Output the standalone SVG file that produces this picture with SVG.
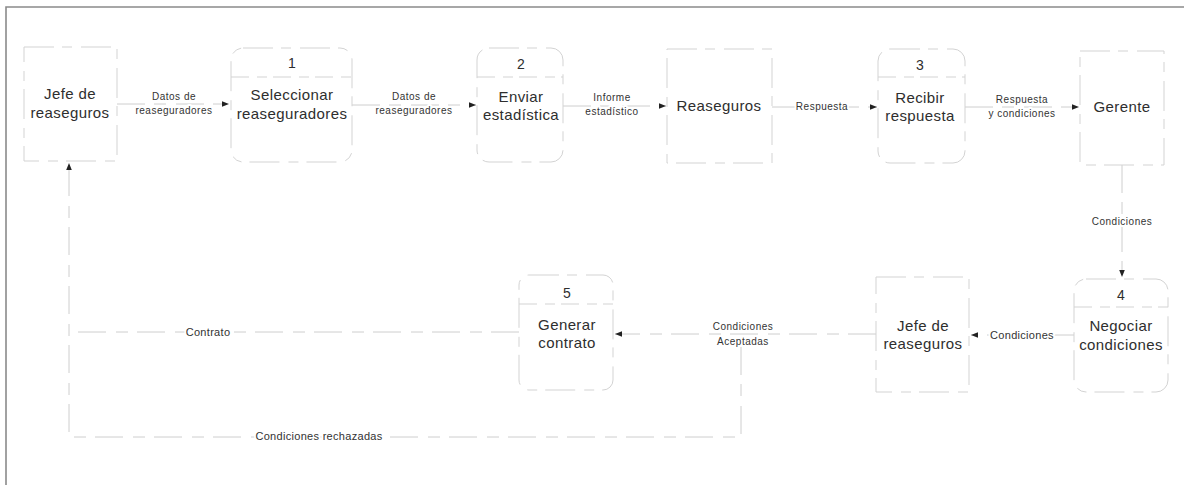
<svg xmlns="http://www.w3.org/2000/svg" width="1184" height="485" viewBox="0 0 1184 485">
  <style>
    .frame { fill: none; stroke: #8a8a8a; stroke-width: 1.6; }
    .box { fill: #ffffff; stroke: #d3d3d3; stroke-width: 1; stroke-dasharray: 30 8 10 9; }
    .div { stroke: #d3d3d3; stroke-width: 1; stroke-dasharray: 18 8 10 6; }
    .flow { fill: none; stroke: #cecece; stroke-width: 1; stroke-dasharray: 28 9 12 10; }
    .big { font-family: "Liberation Sans", Arial, sans-serif; font-size: 15px; letter-spacing: 0.4px; fill: #2e2e2e; text-anchor: middle; }
    .num { font-family: "Liberation Sans", Arial, sans-serif; font-size: 14px; fill: #2e2e2e; text-anchor: middle; }
    .lbl { font-family: "Liberation Sans", Arial, sans-serif; font-size: 10px; letter-spacing: 0.5px; fill: #333333; text-anchor: middle; paint-order: stroke; stroke: #ffffff; stroke-width: 4px; stroke-linejoin: round; }
    .lbl2 { font-family: "Liberation Sans", Arial, sans-serif; font-size: 11px; letter-spacing: 0.3px; fill: #333333; text-anchor: middle; paint-order: stroke; stroke: #ffffff; stroke-width: 4px; stroke-linejoin: round; }
  </style>
  <defs>
    <marker id="arrow" viewBox="0 0 10 10" refX="10" refY="5" markerWidth="7" markerHeight="7" markerUnits="userSpaceOnUse" orient="auto">
      <path d="M0,1 L10,5 L0,9 Z" fill="#222222"/>
    </marker>
  </defs>

  <rect width="1184" height="485" fill="#ffffff"/>
  <!-- page frame (left and top edges) -->
  <path class="frame" d="M6,485 V7 H1184"/>

  <!-- connectors -->
  <g id="connectors">
    <path class="flow" d="M117,104 H229" marker-end="url(#arrow)"/>
    <path class="flow" d="M352,105 H476" marker-end="url(#arrow)"/>
    <path class="flow" d="M563,106 H666" marker-end="url(#arrow)"/>
    <path class="flow" d="M772,107 H877" marker-end="url(#arrow)"/>
    <path class="flow" d="M965,107 H1079" marker-end="url(#arrow)"/>
    <path class="flow" d="M1122,165 V277" marker-end="url(#arrow)"/>
    <path class="flow" d="M1074,335 H971" marker-end="url(#arrow)"/>
    <path class="flow" d="M876,334 H615" marker-end="url(#arrow)"/>
    <path class="flow" d="M741,347 V437 H69 V163" marker-end="url(#arrow)"/>
    <path class="flow" d="M519,332 H69"/>

    <text class="lbl" x="174" y="100">Datos de</text>
    <text class="lbl" x="174" y="114">reaseguradores</text>
    <text class="lbl" x="414" y="100">Datos de</text>
    <text class="lbl" x="414" y="114">reaseguradores</text>
    <text class="lbl" x="612" y="101">Informe</text>
    <text class="lbl" x="612" y="115">estadístico</text>
    <text class="lbl" x="822" y="110">Respuesta</text>
    <text class="lbl" x="1022" y="103">Respuesta</text>
    <text class="lbl" x="1022" y="117">y condiciones</text>
    <text class="lbl" x="1122" y="225">Condiciones</text>
    <text class="lbl2" x="1022" y="339">Condiciones</text>
    <text class="lbl" x="743" y="330">Condiciones</text>
    <text class="lbl" x="743" y="345">Aceptadas</text>
    <text class="lbl2" x="208" y="336">Contrato</text>
    <text class="lbl2" x="319" y="440">Condiciones rechazadas</text>
  </g>

  <!-- external entity: Jefe de reaseguros (top) -->
  <g id="jefe-top">
    <rect class="box" x="24" y="47" width="93" height="114"/>
    <text class="big" x="70" y="99">Jefe de</text>
    <text class="big" x="70" y="118">reaseguros</text>
  </g>

  <!-- process 1 -->
  <g id="p1">
    <rect class="box" x="231" y="48" width="121" height="114" rx="12"/>
    <line class="div" x1="231" y1="77" x2="352" y2="77"/>
    <text class="num" x="292" y="68">1</text>
    <text class="big" x="292" y="100">Seleccionar</text>
    <text class="big" x="292" y="119">reaseguradores</text>
  </g>

  <!-- process 2 -->
  <g id="p2">
    <rect class="box" x="477" y="48" width="86" height="114" rx="12"/>
    <line class="div" x1="477" y1="77" x2="563" y2="77"/>
    <text class="num" x="521" y="69">2</text>
    <text class="big" x="521" y="102">Enviar</text>
    <text class="big" x="521" y="120">estadística</text>
  </g>

  <!-- external entity: Reaseguros -->
  <g id="reaseguros">
    <rect class="box" x="667" y="49" width="105" height="114"/>
    <text class="big" x="719" y="111">Reaseguros</text>
  </g>

  <!-- process 3 -->
  <g id="p3">
    <rect class="box" x="878" y="49" width="87" height="114" rx="12"/>
    <line class="div" x1="878" y1="77" x2="965" y2="77"/>
    <text class="num" x="920" y="70">3</text>
    <text class="big" x="920" y="103">Recibir</text>
    <text class="big" x="920" y="121">respuesta</text>
  </g>

  <!-- external entity: Gerente -->
  <g id="gerente">
    <rect class="box" x="1080" y="51" width="84" height="114"/>
    <text class="big" x="1122" y="112">Gerente</text>
  </g>

  <!-- process 4 -->
  <g id="p4">
    <rect class="box" x="1074" y="279" width="94" height="113" rx="12"/>
    <line class="div" x1="1074" y1="307" x2="1168" y2="307"/>
    <text class="num" x="1121" y="300">4</text>
    <text class="big" x="1121" y="331">Negociar</text>
    <text class="big" x="1121" y="350">condiciones</text>
  </g>

  <!-- external entity: Jefe de reaseguros (bottom) -->
  <g id="jefe-bottom">
    <rect class="box" x="876" y="277" width="93" height="115"/>
    <text class="big" x="923" y="331">Jefe de</text>
    <text class="big" x="923" y="349">reaseguros</text>
  </g>

  <!-- process 5 -->
  <g id="p5">
    <rect class="box" x="519" y="275" width="94" height="115" rx="10"/>
    <line class="div" x1="519" y1="304" x2="613" y2="304"/>
    <text class="num" x="567" y="298">5</text>
    <text class="big" x="567" y="330">Generar</text>
    <text class="big" x="567" y="348">contrato</text>
  </g>
</svg>
